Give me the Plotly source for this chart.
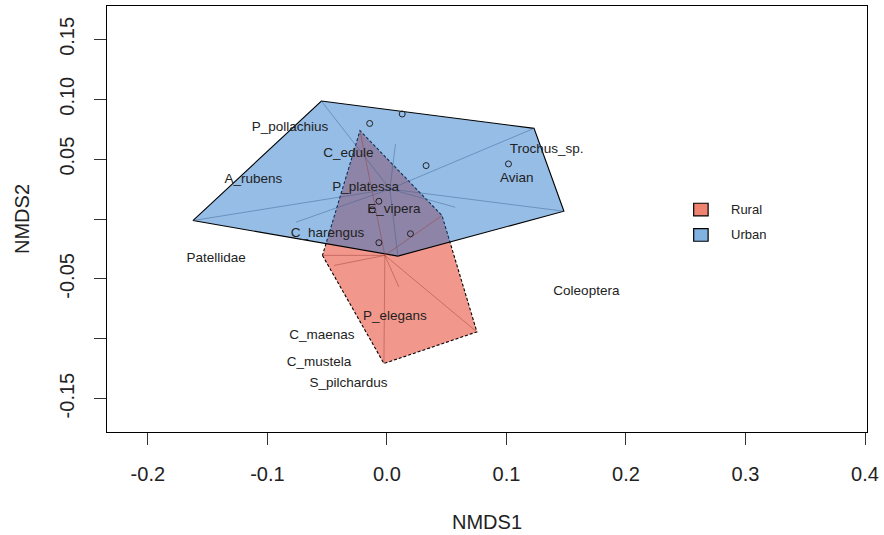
import plotly.graph_objects as go

# ---------------- data ----------------
groups = ["Rural", "Urban"]

# site scores per group (spider end points; hull = convex hull of these)
rural_site_x = [-0.0225, 0.0461, 0.0753, -0.0025, -0.0539, 0.0100, -0.0442]
rural_site_y = [0.0738, 0.0029, -0.0943, -0.1207, -0.0304, -0.0568, -0.0388]
urban_site_x = [-0.0548, 0.1231, 0.1481, 0.0092, -0.1623, 0.0572, -0.0761, 0.0072]
urban_site_y = [0.0985, 0.0757, 0.0065, -0.0310, -0.0013, 0.0098, -0.0027, 0.0627]

# group centroids (spider centres)
rural_centre = [-0.0017, -0.0304]
urban_centre = [0.0025, 0.0250]

# species shown as points (orditorp could not label them)
species_pt_x = [-0.0144, 0.0128, 0.0328, 0.1017, -0.0067, -0.0122, 0.0197, -0.0067]
species_pt_y = [0.0798, 0.0877, 0.0446, 0.0460, 0.0148, 0.0077, -0.0123, -0.0198]

# species shown as labels
species_names = ["P_pollachius", "C_edule", "A_rubens", "P_platessa", "E_vipera",
                 "C_harengus", "Patellidae", "Trochus_sp.", "Avian", "Coleoptera",
                 "P_elegans", "C_maenas", "C_mustela", "S_pilchardus"]
species_x = [-0.0811, -0.0322, -0.1117, -0.0178, 0.0058, -0.0497, -0.1428, 0.1336,
             0.1086, 0.1669, 0.0067, -0.0544, -0.0567, -0.0322]
species_y = [0.0765, 0.0543, 0.0327, 0.0260, 0.0082, -0.0123, -0.0332, 0.0577,
             0.0335, -0.0610, -0.0818, -0.0971, -0.1202, -0.1373]

x_ticks = [-0.2, -0.1, 0.0, 0.1, 0.2, 0.3, 0.4]
x_tick_labels = ["-0.2", "-0.1", "0.0", "0.1", "0.2", "0.3", "0.4"]
y_ticks = [-0.15, -0.10, -0.05, 0.0, 0.05, 0.10, 0.15]
y_tick_labels = ["-0.15", "", "-0.05", "", "0.05", "0.10", "0.15"]

# ---------------- styles ----------------
FONT = "Liberation Sans, Arial, sans-serif"
fill_cols = {"Rural": "rgba(226,24,0,0.45)", "Urban": "rgba(19,108,199,0.45)"}
spider_cols = {"Rural": "rgba(150,60,50,0.45)", "Urban": "rgba(60,90,140,0.45)"}
border_dash = {"Rural": "3px,2px", "Urban": "solid"}
legend_cols = {"Rural": "#F08272", "Urban": "#80B2E2"}


def convex_hull(xs, ys):
    pts = sorted(set(zip(xs, ys)))
    if len(pts) <= 2:
        return pts

    def cross(o, a, b):
        return (a[0] - o[0]) * (b[1] - o[1]) - (a[1] - o[1]) * (b[0] - o[0])

    lower, upper = [], []
    for p in pts:
        while len(lower) >= 2 and cross(lower[-2], lower[-1], p) <= 0:
            lower.pop()
        lower.append(p)
    for p in reversed(pts):
        while len(upper) >= 2 and cross(upper[-2], upper[-1], p) <= 0:
            upper.pop()
        upper.append(p)
    return lower[:-1] + upper[:-1]


sites = {"Rural": (rural_site_x, rural_site_y, rural_centre),
         "Urban": (urban_site_x, urban_site_y, urban_centre)}

fig = go.Figure()

# hull polygons
for g in groups:
    xs, ys, _ = sites[g]
    hull = convex_hull(xs, ys)
    hx = [p[0] for p in hull] + [hull[0][0]]
    hy = [p[1] for p in hull] + [hull[0][1]]
    fig.add_trace(go.Scatter(
        x=hx, y=hy, mode="lines", fill="toself", fillcolor=fill_cols[g],
        line=dict(color="black", width=1.1, dash=border_dash[g]),
        hoverinfo="skip", showlegend=False))

# spiders
for g in groups:
    xs, ys, c = sites[g]
    sx, sy = [], []
    for x, y in zip(xs, ys):
        sx += [c[0], x, None]
        sy += [c[1], y, None]
    fig.add_trace(go.Scatter(
        x=sx, y=sy, mode="lines",
        line=dict(color=spider_cols[g], width=1),
        hoverinfo="skip", showlegend=False))

# species points
fig.add_trace(go.Scatter(
    x=species_pt_x, y=species_pt_y, mode="markers",
    marker=dict(symbol="circle-open", size=6, color="#222222",
                line=dict(width=1, color="#222222")),
    hoverinfo="skip", showlegend=False))

# species labels
fig.add_trace(go.Scatter(
    x=species_x, y=species_y, mode="text", text=species_names,
    textposition="middle center",
    textfont=dict(family=FONT, size=13.5, color="#222222"),
    hoverinfo="skip", showlegend=False))

# ---------------- layout ----------------
L, R, T, B = 107, 14, 5, 103
W, H = 884, 535
PW, PH = W - L - R, H - T - B


def px_to_paper(px, py):
    return (px - L) / PW, (H - B - py) / PH


shapes = []
annotations = []
legend_rows_y = [209, 234.5]
for g, cy in zip(groups, legend_rows_y):
    x0, y0 = px_to_paper(696, cy - 6.3)
    x1, y1 = px_to_paper(710.5, cy + 6.3)
    shapes.append(dict(type="rect", xref="paper", yref="paper",
                       x0=x0, x1=x1, y0=y1, y1=y0,
                       fillcolor=legend_cols[g], line=dict(color="black", width=1.2)))
    tx, ty = px_to_paper(731, cy)
    annotations.append(dict(text=g, xref="paper", yref="paper", x=tx, y=ty,
                            xanchor="left", yanchor="middle", showarrow=False,
                            font=dict(family=FONT, size=13, color="#222222")))

# axis titles
annotations.append(dict(text="NMDS1", xref="paper", yref="paper", x=0.5, y=0,
                        xanchor="center", yanchor="middle", yshift=-89.5,
                        showarrow=False, font=dict(family=FONT, size=20, color="#222222")))
annotations.append(dict(text="NMDS2", xref="paper", yref="paper", x=0, y=0.5,
                        xanchor="center", yanchor="middle", xshift=-85, textangle=-90,
                        showarrow=False, font=dict(family=FONT, size=20, color="#222222")))

axis_common = dict(showgrid=False, zeroline=False, showline=True, linecolor="black",
                   linewidth=1, mirror=True, ticks="outside", ticklen=12, tickwidth=1,
                   tickcolor="#333333",
                   tickfont=dict(family=FONT, size=20, color="#222222"))

fig.update_layout(
    width=W, height=H,
    margin=dict(l=L, r=R, t=T, b=B),
    paper_bgcolor="white", plot_bgcolor="white",
    xaxis=dict(range=[(L - 388) / 1200, (W - R - 388) / 1200],
               tickvals=x_ticks, ticktext=x_tick_labels,
               ticklabelstandoff=12, **axis_common),
    yaxis=dict(range=[-0.1779, 0.1779],
               tickvals=y_ticks, ticktext=y_tick_labels, tickangle=-90,
               ticklabelstandoff=12, **axis_common),
    shapes=shapes, annotations=annotations, showlegend=False,
)

fig.write_html("out.html")
